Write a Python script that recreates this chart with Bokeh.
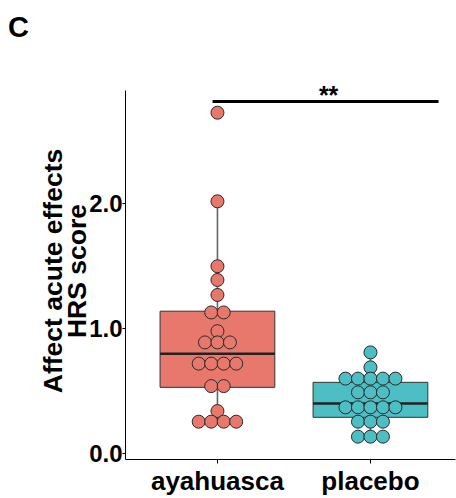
from bokeh.plotting import figure
from bokeh.models import FixedTicker, PrintfTickFormatter, Range1d, Div
from bokeh.layouts import column
from bokeh.embed import file_html
from bokeh.resources import INLINE
from bokeh.core.properties import value

# ---- data ----
groups = ["ayahuasca", "placebo"]
group_pos = [1, 2]
ayahuasca = [2.73, 2.02, 1.50, 1.39, 1.27, 1.13, 1.13, 0.98,
             0.89, 0.89, 0.89, 0.72, 0.72, 0.72, 0.72,
             0.54, 0.54, 0.34, 0.255, 0.255, 0.255, 0.255]
placebo = [0.81, 0.69, 0.60, 0.60, 0.60, 0.60, 0.60,
           0.49, 0.49, 0.49, 0.37, 0.37, 0.37, 0.37, 0.37,
           0.255, 0.255, 0.255, 0.135, 0.135, 0.135]
box_q1 = [0.53, 0.29]
box_median = [0.80, 0.40]
box_q3 = [1.14, 0.57]
whisker_low = [0.255, 0.135]
whisker_high = [2.02, 0.81]
fill_colors = ["#E8786C", "#4DBEC4"]
y_ticks = [0, 1, 2]
sig_text = "**"
sig_x = [0.968, 2.445]
sig_y = 2.82
panel_letter = "C"
y_title = "Affect acute effects\nHRS score"

FONT = "Liberation Sans"
PX_PER_X = 153.0
PX_PER_Y = 125.5
DOT_PX = 12.5
BOX_W = 0.75
HEADER_H = 40
FRAME_TOP = 82      # page px; frame extended a little upward so "**" is not clipped
AXIS_TOP = 2.908    # visible y axis line ends here

header = Div(text=(f'<div style="margin:0;padding:13px 0 0 8px;font-family:\'{FONT}\';'
                   f'font-weight:bold;font-size:29px;line-height:29px;color:black;">'
                   f'{panel_letter}</div>'),
             width=456, height=HEADER_H, margin=0)

y0 = -0.048
p = figure(width=456, height=498 - HEADER_H, output_backend="svg", toolbar_location=None,
           x_range=Range1d(0.399, 0.399 + 330 / PX_PER_X),
           y_range=Range1d(y0, y0 + (461 - FRAME_TOP) / PX_PER_Y),
           min_border_left=125, min_border_right=1,
           min_border_top=FRAME_TOP - HEADER_H, min_border_bottom=37, margin=0)
p.outline_line_color = None
p.xgrid.visible = False
p.ygrid.visible = False
p.background_fill_color = "white"
p.border_fill_color = "white"

# boxes
half = BOX_W / 2
p.vbar(x=group_pos, top=box_q3, bottom=box_q1, width=BOX_W,
       fill_color=fill_colors, line_color="#333333", line_width=1)
# whiskers
p.segment(x0=group_pos, x1=group_pos, y0=box_q3, y1=whisker_high,
          line_color="#666666", line_width=1.6)
p.segment(x0=group_pos, x1=group_pos, y0=box_q1, y1=whisker_low,
          line_color="#666666", line_width=1.6)
# medians
p.segment(x0=[g - half for g in group_pos], x1=[g + half for g in group_pos],
          y0=box_median, y1=box_median, line_color="#222222", line_width=2.5)

# dot stacks (centered rows of equal values)
def stack(vals, center):
    xs, ys = [], []
    rows = {}
    for v in vals:
        rows[v] = rows.get(v, 0) + 1
    step = DOT_PX / PX_PER_X
    for v, n in rows.items():
        for i in range(n):
            xs.append(center + (i - (n - 1) / 2) * step)
            ys.append(v)
    return xs, ys

for vals, gp, col in zip([ayahuasca, placebo], group_pos, fill_colors):
    xs, ys = stack(vals, gp)
    p.scatter(x=xs, y=ys, size=13, fill_color=col, line_color="#2a2a2a", line_width=1)

# significance bar
p.segment(x0=[sig_x[0]], x1=[sig_x[1]], y0=[sig_y], y1=[sig_y], line_color="black", line_width=3)
p.text(x=[(sig_x[0] + sig_x[1]) / 2 + 0.02], y=[sig_y + 0.05], text=[sig_text],
       text_align="center", text_baseline="alphabetic",
       text_font=value(FONT), text_font_style="bold", text_font_size="25px", text_color="black")

# axes
p.xaxis.ticker = FixedTicker(ticks=group_pos)
p.xaxis.major_label_overrides = {g: n for g, n in zip(group_pos, groups)}
p.yaxis.ticker = FixedTicker(ticks=y_ticks)
p.yaxis.formatter = PrintfTickFormatter(format="%.1f")
p.yaxis.bounds = (y0, AXIS_TOP)
for ax in (p.xaxis[0], p.yaxis[0]):
    ax.axis_line_color = "black"
    ax.axis_line_width = 1
    ax.major_tick_line_color = "black"
    ax.major_tick_in = 0
    ax.minor_tick_line_color = None
    ax.major_label_text_font = FONT
    ax.major_label_text_font_style = "bold"
    ax.major_label_text_color = "black"
p.xaxis.major_tick_out = 4
p.yaxis.major_tick_out = 3
p.xaxis.major_label_text_font_size = "26px"
p.xaxis.major_label_standoff = 2
p.yaxis.major_label_text_font_size = "24px"
p.yaxis.major_label_standoff = 0
p.yaxis.axis_label = y_title
p.yaxis.axis_label_text_font = FONT
p.yaxis.axis_label_text_font_style = "bold"
p.yaxis.axis_label_text_font_size = "26.5px"
p.yaxis.axis_label_text_line_height = 0.82
p.yaxis.axis_label_text_color = "black"
p.yaxis.axis_label_standoff = -6

layout = column(header, p, spacing=0, margin=0)
open("out.html", "w").write(file_html(layout, INLINE))
